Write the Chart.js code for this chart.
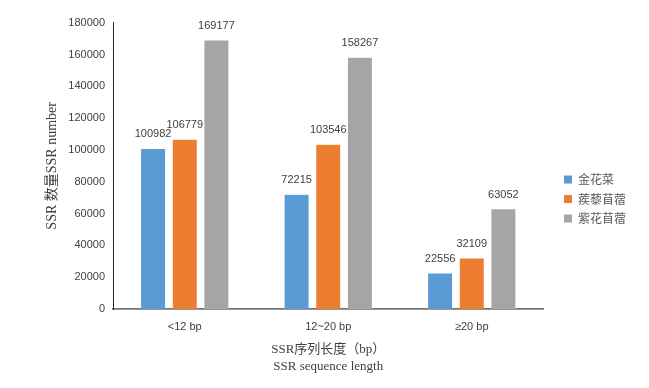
<!DOCTYPE html>
<html>
<head>
<meta charset="utf-8">
<script src="https://cdn.jsdelivr.net/npm/chart.js@4.4.1/dist/chart.umd.min.js"></script>
<style>
  html, body { margin: 0; padding: 0; background: #fff; }
  #wrap { width: 649px; height: 388px; }
</style>
</head>
<body>
<div id="wrap"><canvas id="c" width="649" height="388"></canvas></div>
<script>
const categories = ["<12 bp", "12~20 bp", "≥20 bp"];
const seriesNames = ["金花菜", "蒺藜苜蓿", "紫花苜蓿"];
const jinhuacai = [100982, 72215, 22556];
const jilimuxu = [106779, 103546, 32109];
const zihuamuxu = [169177, 158267, 63052];
const yTicks = [0, 20000, 40000, 60000, 80000, 100000, 120000, 140000, 160000, 180000];

const COLORS = ["#5b9bd5", "#ed7d31", "#a5a5a5"];
const SANS = "'Liberation Sans', Arial, sans-serif";
const SERIF = "'Liberation Serif', 'Noto Sans CJK SC', serif";

// value labels above each bar
const barLabels = {
  id: "barLabels",
  afterDatasetsDraw(chart) {
    const { ctx } = chart;
    ctx.save();
    ctx.font = "11px " + SANS;
    ctx.fillStyle = "#404040";
    ctx.textAlign = "center";
    ctx.textBaseline = "middle";
    chart.data.datasets.forEach((ds, i) => {
      chart.getDatasetMeta(i).data.forEach((bar, j) => {
        ctx.fillText(String(ds.data[j]), bar.x, bar.y - 14);
      });
    });
    ctx.restore();
  },
};

// legend on the right, drawn by hand to match the Excel layout
const sideLegend = {
  id: "sideLegend",
  afterDraw(chart) {
    const { ctx } = chart;
    ctx.save();
    ctx.font = "12px 'Noto Sans CJK SC', sans-serif";
    ctx.textBaseline = "middle";
    chart.data.datasets.forEach((ds, i) => {
      const y = 179.5 + i * 19.5;
      ctx.fillStyle = ds.backgroundColor;
      ctx.fillRect(564, y - 4, 8, 8);
      ctx.fillStyle = "#595959";
      ctx.fillText(ds.label, 578, y);
    });
    ctx.restore();
  },
};

new Chart(document.getElementById("c"), {
  type: "bar",
  data: {
    labels: categories,
    datasets: [jinhuacai, jilimuxu, zihuamuxu].map((d, i) => ({
      label: seriesNames[i],
      data: d,
      backgroundColor: COLORS[i],
      borderColor: "rgba(255,255,255,0.6)",
      borderWidth: 0.5,
      categoryPercentage: 0.662,
      barPercentage: 0.79,
    })),
  },
  options: {
    responsive: false,
    animation: false,
    layout: { padding: { left: 0, right: 105.5, top: 22.7, bottom: 0 } },
    plugins: {
      legend: { display: false },
      tooltip: { enabled: false },
    },
    scales: {
      x: {
        grid: { display: false, drawTicks: false },
        border: { color: "#767171", width: 1.7 },
        ticks: { color: "#404040", font: { family: SANS, size: 11 }, padding: 11 },
        title: {
          display: true,
          text: ["SSR序列长度（bp）", "SSR sequence length"],
          color: "#404040",
          font: { family: SERIF, size: 13, lineHeight: 1.3 },
          padding: { top: 0, bottom: 13 },
        },
        afterFit(s) { s.height = 388 - 309; },
      },
      y: {
        min: 0,
        max: 180000,
        afterBuildTicks(s) { s.ticks = yTicks.map((v) => ({ value: v })); },
        grid: { display: false, drawTicks: false },
        border: { color: "#262626", width: 1 },
        ticks: {
          color: "#404040",
          font: { family: SANS, size: 11 },
          padding: 8,
          callback: (v) => String(v),
        },
        title: {
          display: true,
          text: "SSR 数量SSR number",
          color: "#404040",
          font: { family: SERIF, size: 14, lineHeight: 1.2 },
          padding: { top: 43.6, bottom: 0 },
        },
        afterFit(s) { s.width = 113; },
      },
    },
  },
  plugins: [barLabels, sideLegend],
});
</script>
</body>
</html>
